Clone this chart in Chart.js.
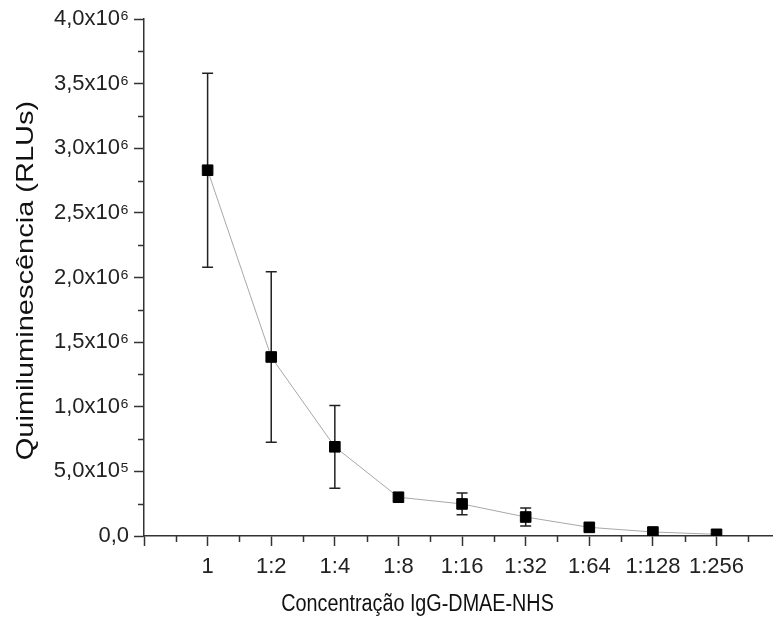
<!DOCTYPE html>
<html>
<head>
<meta charset="utf-8">
<script src="https://cdn.jsdelivr.net/npm/chart.js@4"></script>
<style>
  body { margin: 0; background: #fff; }
  canvas { display: block; }
</style>
</head>
<body>
<canvas id="rluChart" width="781" height="624"></canvas>
<script>
// dilution series and luminescence readings (mean and SD)
const dilutions = ["1", "1:2", "1:4", "1:8", "1:16", "1:32", "1:64", "1:128", "1:256"];
const meanRLU = [2830000, 1385000, 690000, 300000, 248000, 147000, 67000, 31000, 13000];
const sdRLU = [750000, 660000, 320000, 0, 84000, 70000, 0, 0, 0];
const yTickLabels = ["0,0", "5,0x10\u2075", "1,0x10\u2076", "1,5x10\u2076", "2,0x10\u2076",
                     "2,5x10\u2076", "3,0x10\u2076", "3,5x10\u2076", "4,0x10\u2076"];
const xTitle = "Concentração IgG-DMAE-NHS";
const yTitle = "Quimiluminescência (RLUs)";

const FONT = "'Liberation Sans', Arial, sans-serif";
const INK = "#333";

const points = meanRLU.map((v, i) => ({ x: i + 1, y: v }));

// vertical error bars with caps, drawn under the line and markers
const errorBars = {
    id: "errorBars",
    beforeDatasetsDraw(chart) {
        const ctx = chart.ctx;
        const xs = chart.scales.x, ys = chart.scales.y;
        ctx.save();
        ctx.strokeStyle = "#222";
        ctx.lineWidth = 1.5;
        meanRLU.forEach((m, i) => {
            if (!sdRLU[i]) return;
            const px = xs.getPixelForValue(i + 1);
            const top = ys.getPixelForValue(m + sdRLU[i]);
            const bot = ys.getPixelForValue(m - sdRLU[i]);
            ctx.beginPath();
            ctx.moveTo(px, top); ctx.lineTo(px, bot);
            ctx.moveTo(px - 5.5, top); ctx.lineTo(px + 5.5, top);
            ctx.moveTo(px - 5.5, bot); ctx.lineTo(px + 5.5, bot);
            ctx.stroke();
        });
        ctx.restore();
    }
};

// minor ticks between the labelled ones, and the two axis captions
// (captions are set a little narrow, like the exported figure's lettering)
const axisExtras = {
    id: "axisExtras",
    afterDraw(chart) {
        const ctx = chart.ctx;
        const xs = chart.scales.x, ys = chart.scales.y;
        const area = chart.chartArea;
        ctx.save();
        ctx.strokeStyle = INK;
        ctx.lineWidth = 1.5;
        ctx.beginPath();
        for (let v = 250000; v < 4000000; v += 500000) {
            const py = Math.round(ys.getPixelForValue(v)) + 0.5;
            ctx.moveTo(area.left - 6, py); ctx.lineTo(area.left, py);
        }
        for (let v = 0.5; v < xs.max; v += 1) {
            const px = Math.round(xs.getPixelForValue(v)) + 0.5;
            ctx.moveTo(px, area.bottom); ctx.lineTo(px, area.bottom + 6);
        }
        ctx.stroke();

        ctx.fillStyle = "#111";
        ctx.textAlign = "center";
        ctx.textBaseline = "middle";

        ctx.save();
        ctx.translate(xs.getPixelForValue(4.3), area.bottom + 69);
        ctx.scale(0.86, 1);
        ctx.font = "23px " + FONT;
        ctx.fillText(xTitle, 0, 0);
        ctx.restore();

        ctx.save();
        ctx.translate(27, (area.top + area.bottom) / 2 + 3);
        ctx.scale(0.8, 1);
        ctx.rotate(-Math.PI / 2);
        ctx.font = "29px " + FONT;
        ctx.fillText(yTitle, 0, 0);
        ctx.restore();

        ctx.restore();
    }
};

new Chart(document.getElementById("rluChart").getContext("2d"), {
    type: "line",
    data: {
        datasets: [{
            data: points,
            borderColor: "#a8a8a8",
            borderWidth: 1,
            pointStyle: "rect",
            pointRadius: 7.5,
            pointBackgroundColor: "#000",
            pointBorderColor: "#000",
            pointBorderWidth: 1,
            tension: 0
        }]
    },
    options: {
        responsive: false,
        devicePixelRatio: 1,
        animation: false,
        layout: { padding: { top: 19, right: 0, left: 0, bottom: 0 } },
        plugins: { legend: { display: false }, tooltip: { enabled: false } },
        scales: {
            x: {
                type: "linear",
                min: 0,
                max: 9.88,
                afterBuildTicks: (scale) => {
                    scale.ticks = [0, 1, 2, 3, 4, 5, 6, 7, 8, 9].map(v => ({ value: v }));
                },
                afterFit: (scale) => { scale.height = 88; },
                grid: { drawOnChartArea: false, tickLength: 10, tickColor: INK, tickWidth: 1.5 },
                border: { color: INK, width: 1.5 },
                ticks: {
                    autoSkip: false,
                    maxRotation: 0,
                    padding: 8,
                    color: "#222",
                    font: { family: FONT, size: 22 },
                    callback: (v) => dilutions[v - 1] || ""
                }
            },
            y: {
                min: 0,
                max: 4000000,
                afterBuildTicks: (scale) => {
                    scale.ticks = yTickLabels.map((_, i) => ({ value: i * 500000 }));
                },
                afterFit: (scale) => { scale.width = 144; },
                grid: { drawOnChartArea: false, tickLength: 10, tickColor: INK, tickWidth: 1.5 },
                border: { color: INK, width: 1.5 },
                ticks: {
                    padding: 5,
                    color: "#222",
                    font: { family: FONT, size: 22 },
                    callback: (v) => yTickLabels[Math.round(v / 500000)]
                }
            }
        }
    },
    plugins: [errorBars, axisExtras]
});
</script>
</body>
</html>
